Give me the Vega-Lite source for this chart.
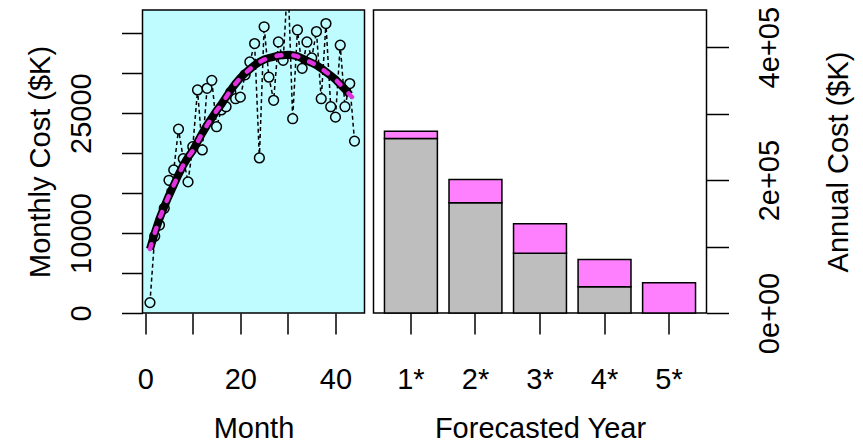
{
  "$schema": "https://vega.github.io/schema/vega-lite/v6.json",
  "background": "white",
  "padding": {"left": 25.5, "top": 5, "right": 5, "bottom": 0},
  "bounds": "flush",
  "spacing": 9,
  "config": {
    "axis": {
      "labelFont": "Liberation Sans", "titleFont": "Liberation Sans",
      "labelFontSize": 29, "titleFontSize": 29, "titleFontWeight": "normal",
      "labelColor": "black", "titleColor": "black",
      "tickColor": "black", "tickWidth": 1.5, "tickSize": 21,
      "domain": false, "grid": false,
      "labelOverlap": false, "labelFlush": false, "labelBound": false
    }
  },
  "datasets": {
    "actual": [
      {"month": 1, "cost": 1300}, {"month": 2, "cost": 9600}, {"month": 3, "cost": 11000},
      {"month": 4, "cost": 13100}, {"month": 5, "cost": 16600}, {"month": 6, "cost": 17900},
      {"month": 7, "cost": 23000}, {"month": 8, "cost": 19300}, {"month": 9, "cost": 16400},
      {"month": 10, "cost": 20800}, {"month": 11, "cost": 27900}, {"month": 12, "cost": 20400},
      {"month": 13, "cost": 28100}, {"month": 14, "cost": 29100}, {"month": 15, "cost": 23300},
      {"month": 16, "cost": 25400}, {"month": 17, "cost": 25800}, {"month": 18, "cost": 27600},
      {"month": 19, "cost": 26800}, {"month": 20, "cost": 27000}, {"month": 21, "cost": 29800},
      {"month": 22, "cost": 31400}, {"month": 23, "cost": 33700}, {"month": 24, "cost": 19400},
      {"month": 25, "cost": 35800}, {"month": 26, "cost": 29500}, {"month": 27, "cost": 26600},
      {"month": 28, "cost": 33900}, {"month": 29, "cost": 31600}, {"month": 30, "cost": 42000},
      {"month": 31, "cost": 24300}, {"month": 32, "cost": 35400}, {"month": 33, "cost": 30600},
      {"month": 34, "cost": 33900}, {"month": 35, "cost": 31900}, {"month": 36, "cost": 35200},
      {"month": 37, "cost": 26800}, {"month": 38, "cost": 36200}, {"month": 39, "cost": 25800},
      {"month": 40, "cost": 24500}, {"month": 41, "cost": 33500}, {"month": 42, "cost": 25800},
      {"month": 43, "cost": 28700}, {"month": 44, "cost": 21500}
    ],
    "fit": [
      {"month": 1, "cost": 8000}, {"month": 2, "cost": 10000}, {"month": 3, "cost": 11800},
      {"month": 4, "cost": 13300}, {"month": 5, "cost": 14700}, {"month": 6, "cost": 16000},
      {"month": 7, "cost": 17300}, {"month": 8, "cost": 18500}, {"month": 9, "cost": 19500},
      {"month": 10, "cost": 20300}, {"month": 11, "cost": 21400}, {"month": 12, "cost": 22500},
      {"month": 13, "cost": 23500}, {"month": 14, "cost": 24400}, {"month": 15, "cost": 25300},
      {"month": 16, "cost": 26100}, {"month": 17, "cost": 27000}, {"month": 18, "cost": 27900},
      {"month": 19, "cost": 28700}, {"month": 20, "cost": 29400}, {"month": 21, "cost": 30000},
      {"month": 22, "cost": 30500}, {"month": 23, "cost": 31000}, {"month": 24, "cost": 31400},
      {"month": 25, "cost": 31700}, {"month": 26, "cost": 31900}, {"month": 27, "cost": 32050},
      {"month": 28, "cost": 32200}, {"month": 29, "cost": 32250}, {"month": 30, "cost": 32300},
      {"month": 31, "cost": 32250}, {"month": 32, "cost": 32100}, {"month": 33, "cost": 31850},
      {"month": 34, "cost": 31550}, {"month": 35, "cost": 31300}, {"month": 36, "cost": 31000},
      {"month": 37, "cost": 30600}, {"month": 38, "cost": 30150}, {"month": 39, "cost": 29700},
      {"month": 40, "cost": 29200}, {"month": 41, "cost": 28600}, {"month": 42, "cost": 28000},
      {"month": 43, "cost": 27300}, {"month": 44, "cost": 26700}, {"month": 45, "cost": 26200}
    ],
    "annual": [
      {"year": "1*", "part": "Existing", "amount": 262700},
      {"year": "1*", "part": "Forecast", "amount": 11000},
      {"year": "2*", "part": "Existing", "amount": 165900},
      {"year": "2*", "part": "Forecast", "amount": 35100},
      {"year": "3*", "part": "Existing", "amount": 89800},
      {"year": "3*", "part": "Forecast", "amount": 44500},
      {"year": "4*", "part": "Existing", "amount": 39600},
      {"year": "4*", "part": "Forecast", "amount": 41100},
      {"year": "5*", "part": "Forecast", "amount": 45600}
    ]
  },
  "hconcat": [
    {
      "width": 222,
      "height": 303,
      "view": {"fill": "#bffcff", "stroke": "black", "strokeWidth": 1.5},
      "encoding": {
        "x": {
          "field": "month", "type": "quantitative",
          "scale": {"domain": [-0.57, 46.1], "nice": false, "zero": false},
          "axis": {
            "values": [0, 10, 20, 30, 40],
            "labelExpr": "datum.value % 20 == 0 ? datum.label : ''",
            "labelBaseline": "alphabetic", "labelPadding": 54,
            "title": "Month", "titleBaseline": "alphabetic", "titleY": 124
          }
        },
        "y": {
          "field": "cost", "type": "quantitative",
          "scale": {"domain": [0, 37900], "nice": false},
          "axis": {
            "values": [0, 5000, 10000, 15000, 20000, 25000, 30000, 35000],
            "format": "d",
            "labelExpr": "datum.value == 0 || datum.value == 10000 || datum.value == 25000 ? datum.label : ''",
            "labelAngle": -90, "labelAlign": "center", "labelBaseline": "alphabetic",
            "labelPadding": 31,
            "title": "Monthly Cost ($K)", "titleAngle": -90, "titleBaseline": "alphabetic",
            "titleX": -93
          }
        }
      },
      "layer": [
        {
          "data": {"name": "actual"},
          "mark": {"type": "line", "color": "black", "strokeWidth": 1.5, "strokeDash": [4, 3], "clip": true}
        },
        {
          "data": {"name": "actual"},
          "mark": {"type": "point", "shape": "circle", "filled": true, "fill": "#bffcff", "stroke": "black", "strokeWidth": 1.5, "size": 95, "opacity": 1, "clip": true}
        },
        {
          "data": {"name": "fit"},
          "transform": [{"filter": "datum.month <= 43"}],
          "mark": {"type": "line", "color": "black", "strokeWidth": 8, "clip": true}
        },
        {
          "data": {"name": "fit"},
          "mark": {"type": "line", "color": "#e030e0", "strokeWidth": 4.5, "strokeDash": [5, 12], "strokeCap": "round", "clip": true}
        }
      ]
    },
    {
      "width": 333,
      "height": 303,
      "view": {"fill": "white", "stroke": "black", "strokeWidth": 1.5},
      "data": {"name": "annual"},
      "mark": {"type": "bar", "stroke": "black", "strokeWidth": 1.5},
      "encoding": {
        "x": {
          "field": "year", "type": "nominal",
          "scale": {"paddingInner": 0.18, "paddingOuter": 0.17},
          "axis": {
            "labelAngle": 0, "labelBaseline": "alphabetic", "labelPadding": 54,
            "title": "Forecasted Year", "titleBaseline": "alphabetic", "titleY": 124
          }
        },
        "y": {
          "field": "amount", "type": "quantitative", "stack": "zero",
          "scale": {"domain": [0, 456000], "nice": false},
          "axis": {
            "orient": "right",
            "values": [0, 100000, 200000, 300000, 400000],
            "labelExpr": "datum.value == 0 ? '0e+00' : datum.value == 200000 ? '2e+05' : datum.value == 400000 ? '4e+05' : ''",
            "labelAngle": -90, "labelAlign": "center", "labelBaseline": "alphabetic",
            "labelPadding": 50, "tickSize": 22,
            "title": "Annual Cost ($K)", "titleAngle": -90, "titleBaseline": "alphabetic",
            "titleX": 141
          }
        },
        "color": {
          "field": "part", "type": "nominal",
          "scale": {"domain": ["Existing", "Forecast"], "range": ["#bebebe", "#ff80ff"]},
          "legend": null
        },
        "order": {"field": "part", "sort": "ascending"}
      }
    }
  ]
}
